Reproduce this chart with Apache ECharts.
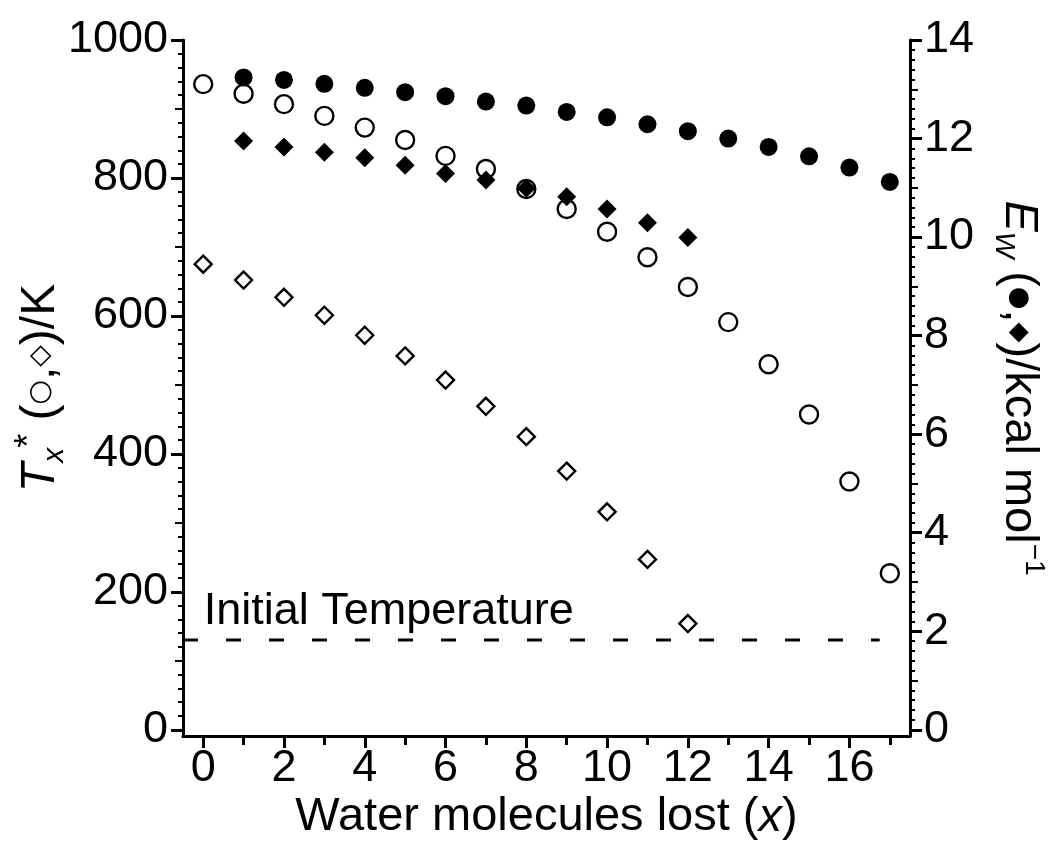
<!DOCTYPE html>
<html><head><meta charset="utf-8">
<script src="https://cdn.jsdelivr.net/npm/echarts@6/dist/echarts.min.js"></script>
<style>html,body{margin:0;padding:0;background:#fff}#c{width:1050px;height:865px}</style>
</head><body><div id="c"></div>
<script>
// ---- data ----
const xOpenCircle = [0,1,2,3,4,5,6,7,8,9,10,11,12,13,14,15,16,17];
const tOpenCircle = [936,922,907,890,873,855,832,813,784,755,722,685,642,591,530,457,360,227];
const xOpenDiamond = [0,1,2,3,4,5,6,7,8,9,10,11,12];
const tOpenDiamond = [675,652,627,601,572,542,507,469,425,375,316,247,154];
const xFilledCircle = [1,2,3,4,5,6,7,8,9,10,11,12,13,14,15,16,17];
const eFilledCircle = [13.24,13.19,13.11,13.03,12.94,12.86,12.75,12.67,12.54,12.43,12.29,12.15,12.00,11.83,11.64,11.41,11.12];
const xFilledDiamond = [1,2,3,4,5,6,7,8,9,10,11,12];
const eFilledDiamond = [11.95,11.83,11.72,11.61,11.46,11.29,11.16,10.99,10.82,10.57,10.29,9.99];
const initialTemperature = 130;
const initialTempX = [-0.5, 16.75];
const initialTempLabel = 'Initial Temperature';
const initialTempLabelPos = [0, 171];
// ---- tick labels ----
const xTicks = [0,2,4,6,8,10,12,14,16];
const xMinorTicks = [1,3,5,7,9,11,13,15,17];
const tTicks = [0,200,400,600,800,1000];
const eTicks = [0,2,4,6,8,10,12,14];

const tMid = [], tMinor = [];
for (let k = 1; k < 50; k++) { const v = k * 20; if (v % 200 === 0) continue; if (v % 100 === 0) tMid.push(v); else tMinor.push(v); }
const eMid = [], eMinor = [];
for (let k = 1; k < 70; k++) { const v = +(k * 0.2).toFixed(1); if (k % 10 === 0) continue; if (k % 5 === 0) eMid.push(v); else eMinor.push(v); }

const FONT = 'Liberation Sans';
const black = '#000';
const zip = (xs, ys) => xs.map((x, i) => [x, ys[i]]);
const plain = v => String(v);

const T_MIN = -9, T_MAX = 1000, E_MIN = -0.126, E_MAX = 14;

function yAx(pos, min, max, ticks, len, width) {
  return {
    type: 'value', position: pos, min: min, max: max, offset: 0,
    axisLine: { show: false, onZero: false },
    axisTick: { show: true, customValues: ticks, length: len, inside: false, lineStyle: { color: black, width: width } },
    axisLabel: { show: false },
    splitLine: { show: false }, minorTick: { show: false }
  };
}

const chart = echarts.init(document.getElementById('c'), null, { renderer: 'canvas' });
chart.setOption({
  animation: false,
  backgroundColor: '#fff',
  grid: { left: 183, right: 140, top: 40, bottom: 129, containLabel: false, outerBoundsMode: 'none' },
  xAxis: [
    {
      type: 'value', position: 'bottom', min: -0.5, max: 17.5,
      axisLine: { show: true, onZero: false, lineStyle: { color: black, width: 3 } },
      axisTick: { show: true, customValues: xTicks, length: 12, lineStyle: { color: black, width: 3 } },
      axisLabel: { show: true, customValues: xTicks, formatter: plain, fontSize: 45, fontFamily: FONT, color: black, margin: 10 },
      splitLine: { show: false },
      name: '{n|Water molecules lost (}{i|x}{n|)}',
      nameLocation: 'middle', nameGap: 58, nameMoveOverlap: false,
      nameTextStyle: { rich: {
        n: { fontSize: 47, fontFamily: FONT, color: black },
        i: { fontSize: 47, fontFamily: FONT, fontStyle: 'italic', color: black }
      } }
    },
    {
      type: 'value', position: 'bottom', min: -0.5, max: 17.5,
      axisLine: { show: false, onZero: false },
      axisTick: { show: true, customValues: xMinorTicks, length: 9, lineStyle: { color: black, width: 3 } },
      axisLabel: { show: false }, splitLine: { show: false }
    }
  ],
  yAxis: [
    {
      type: 'value', position: 'left', min: T_MIN, max: T_MAX,
      axisLine: { show: true, onZero: false, lineStyle: { color: black, width: 3 } },
      axisTick: { show: true, customValues: tTicks, length: 12, lineStyle: { color: black, width: 3 } },
      axisLabel: { show: true, customValues: tTicks, formatter: plain, fontSize: 45, fontFamily: FONT, color: black, margin: 15 },
      splitLine: { show: false },
      name: '{t|T}{sub|x}{sup|*}{n| (}{sym|○}{n|,}{sym|◇}{n|)/K}',
      nameLocation: 'middle', nameRotate: 90, nameGap: 113, nameMoveOverlap: false,
      nameTextStyle: { rich: {
        t: { fontSize: 48, fontFamily: FONT, fontStyle: 'italic', color: black, lineHeight: 58 },
        sub: { fontSize: 30, fontFamily: FONT, fontStyle: 'italic', color: black, lineHeight: 28, verticalAlign: 'bottom' },
        sup: { fontSize: 36, fontFamily: FONT, color: black, lineHeight: 30, verticalAlign: 'top' },
        n: { fontSize: 48, fontFamily: FONT, color: black, lineHeight: 58 },
        sym: { fontSize: 28, fontFamily: 'DejaVu Sans', color: black, lineHeight: 58 }
      } }
    },
    yAx('left', T_MIN, T_MAX, tMinor, 5, 2),
    yAx('left', T_MIN, T_MAX, tMid, 8, 2),
    {
      type: 'value', position: 'right', min: E_MIN, max: E_MAX,
      axisLine: { show: true, onZero: false, lineStyle: { color: black, width: 3 } },
      axisTick: { show: true, customValues: eTicks, length: 12, lineStyle: { color: black, width: 3 } },
      axisLabel: { show: true, customValues: eTicks, formatter: plain, fontSize: 45, fontFamily: FONT, color: black, margin: 14 },
      splitLine: { show: false },
      name: '{e|E}{sub|W}{n| (}{sym|●}{n|,}{sym|◆}{n|)/kcal mol}{sup|−1}',
      nameLocation: 'middle', nameRotate: -90, nameGap: 80, nameMoveOverlap: false,
      nameTextStyle: { rich: {
        e: { fontSize: 47, fontFamily: FONT, fontStyle: 'italic', color: black, lineHeight: 58 },
        sub: { fontSize: 28, fontFamily: FONT, fontStyle: 'italic', color: black, lineHeight: 28, verticalAlign: 'bottom' },
        sup: { fontSize: 28, fontFamily: FONT, color: black, lineHeight: 30, verticalAlign: 'top' },
        n: { fontSize: 47, fontFamily: FONT, color: black, lineHeight: 58 },
        sym: { fontSize: 26, fontFamily: 'DejaVu Sans', color: black, lineHeight: 58 }
      } }
    },
    yAx('right', E_MIN, E_MAX, eMinor, 5, 2),
    yAx('right', E_MIN, E_MAX, eMid, 8, 2)
  ],
  series: [
    {
      type: 'line', xAxisIndex: 0, yAxisIndex: 0, silent: true,
      data: initialTempX.map(x => [x, initialTemperature]),
      showSymbol: false, symbol: 'none',
      lineStyle: { color: black, width: 3, type: [15, 28], opacity: 1 }, z: 1
    },
    {
      type: 'scatter', xAxisIndex: 0, yAxisIndex: 0, silent: true,
      data: [initialTempLabelPos], symbolSize: 1, itemStyle: { color: 'rgba(0,0,0,0)', opacity: 1 },
      label: { show: true, position: 'right', distance: 0, formatter: initialTempLabel,
        fontSize: 45, fontFamily: FONT, color: black, opacity: 1 }
    },
    {
      type: 'scatter', xAxisIndex: 0, yAxisIndex: 0, silent: true,
      data: zip(xOpenCircle, tOpenCircle), symbol: 'circle', symbolSize: 18,
      itemStyle: { color: '#fff', borderColor: black, borderWidth: 2.4, opacity: 1 }, z: 2
    },
    {
      type: 'scatter', xAxisIndex: 0, yAxisIndex: 0, silent: true,
      data: zip(xOpenDiamond, tOpenDiamond), symbol: 'diamond', symbolSize: 17,
      itemStyle: { color: '#fff', borderColor: black, borderWidth: 2.4, opacity: 1 }, z: 2
    },
    {
      type: 'scatter', xAxisIndex: 0, yAxisIndex: 3, silent: true,
      data: zip(xFilledCircle, eFilledCircle), symbol: 'circle', symbolSize: 18,
      itemStyle: { color: black, opacity: 1 }, z: 3
    },
    {
      type: 'scatter', xAxisIndex: 0, yAxisIndex: 3, silent: true,
      data: zip(xFilledDiamond, eFilledDiamond), symbol: 'diamond', symbolSize: 19,
      itemStyle: { color: black, opacity: 1 }, z: 3
    }
  ]
});
</script>
</body></html>
